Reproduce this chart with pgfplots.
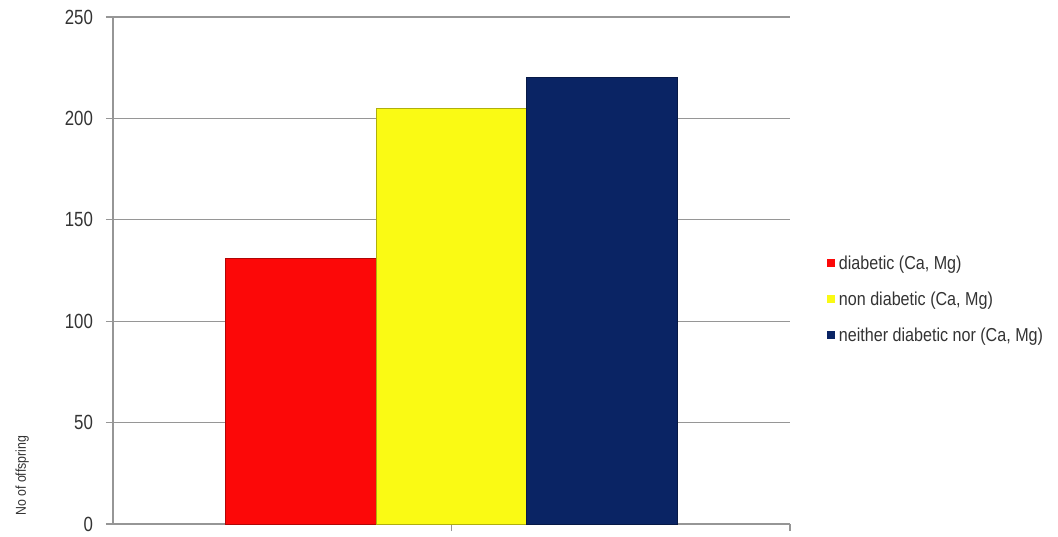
\documentclass[border=0pt]{standalone}
\usepackage{pgfplots}
\pgfplotsset{compat=1.18}
\usepackage{fontspec}
\setmainfont{Liberation Sans}
\newfontfamily\narrowfont[FakeStretch=0.82]{Liberation Sans}
\newfontfamily\narrowfontb[FakeStretch=0.86]{Liberation Sans}
\definecolor{cred}{RGB}{252,8,8}
\definecolor{cyel}{RGB}{250,250,20}
\definecolor{cnavy}{RGB}{10,36,100}
\definecolor{gridg}{RGB}{150,150,150}
\begin{document}
\begin{tikzpicture}
\begin{axis}[
  scale only axis,
  width=338.5bp, height=253.5bp,
  ymin=0, ymax=250,
  xmin=-2.25, xmax=2.25,
  ytick={0,50,100,150,200,250},
  xtick={0,2.25},
  xticklabels={},
  axis lines=left,
  axis line style={-, draw=gridg, line width=0.7pt},
  ymajorgrids,
  grid style={draw=gridg, line width=0.7pt},
  tick align=outside,
  major tick length=3.5bp,
  tick style={draw=gridg, line width=0.7pt},
  /pgf/number format/assume math mode=true,
  yticklabel style={font=\narrowfont\fontsize{10.3}{12}\selectfont, text=black!80, xshift=-3bp},
  ylabel={No of offspring},
  ylabel style={at={(axis description cs:-0.134,0.095)}, anchor=center, font=\narrowfontb\fontsize{7.2}{8}\selectfont, text=black!80},
  ybar, bar width=1, bar shift=0pt,
  clip=false,
  legend style={draw=none, fill=none, at={(axis description cs:1.054,0.442)}, anchor=west,
    font=\narrowfontb\fontsize{9.4}{11}\selectfont, text=black!80, row sep=5.8bp,
    legend cell align=left, inner sep=0pt},
  legend image code/.code={\fill[#1,draw=none] (0bp,-1.6bp) rectangle (4bp,2.4bp);},
]
\addplot[fill=cred, draw=cred!70!black] coordinates {(-1,131)};
\addlegendentry{diabetic (Ca, Mg)}
\addplot[fill=cyel, draw=cyel!70!black] coordinates {(0,205)};
\addlegendentry{non diabetic (Ca, Mg)}
\addplot[fill=cnavy, draw=cnavy!70!black] coordinates {(1,220)};
\addlegendentry{neither diabetic nor (Ca, Mg)}
\end{axis}
\pgfresetboundingbox
\path[use as bounding box] ([shift={(-56.5bp,-6.5bp)}]current axis.south west) rectangle ++(529bp,268.5bp);
\end{tikzpicture}
\end{document}
